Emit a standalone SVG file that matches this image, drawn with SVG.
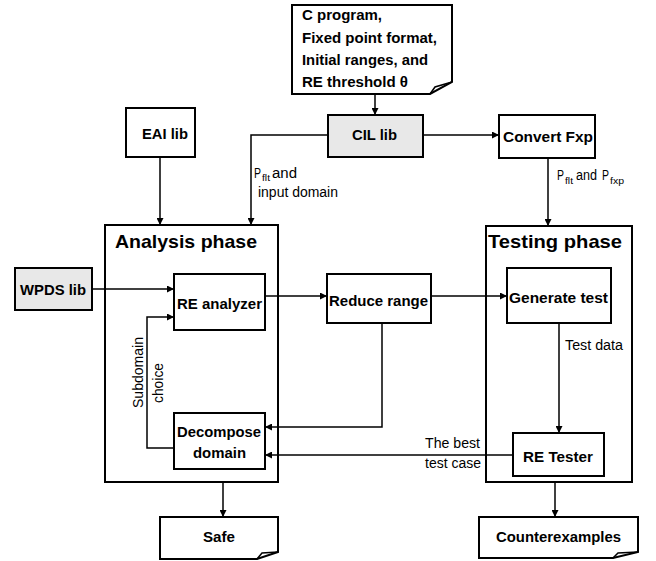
<svg xmlns="http://www.w3.org/2000/svg" width="656" height="561" viewBox="0 0 656 561">
<style>
.box{fill:#fff;stroke:#000;stroke-width:2}
.gray{fill:#e8e8e8;stroke:#000;stroke-width:2}
.ln{fill:none;stroke:#000;stroke-width:1.5}
.b{font-family:"Liberation Sans",Arial,sans-serif;font-weight:bold;font-size:15.5px;fill:#000}
.t{font-family:"Liberation Sans",Arial,sans-serif;font-weight:bold;font-size:18.5px;fill:#000}
.n{font-family:"Liberation Sans",Arial,sans-serif;font-size:14px;fill:#000}
.s{font-family:"Liberation Sans",Arial,sans-serif;font-size:8.5px;fill:#000}
</style>
<defs>
<marker id="ar" viewBox="0 0 10 10" refX="10" refY="5" markerWidth="7" markerHeight="7" markerUnits="userSpaceOnUse" orient="auto">
<path d="M0,0 L10,5 L0,10 Z" fill="#000"/>
</marker>
</defs>

<g id="input-doc">
<path class="box" d="M292,5 H452 V82 L430,94 H292 Z"/>
<path class="ln" d="M430,94 L435,87 L452,82"/>
<text class="b" x="302" y="20" font-size="16.5" textLength="80" lengthAdjust="spacingAndGlyphs">C program,</text>
<text class="b" x="302" y="43" font-size="16.5" textLength="135" lengthAdjust="spacingAndGlyphs">Fixed point format,</text>
<text class="b" x="302" y="65" font-size="16.5" textLength="126" lengthAdjust="spacingAndGlyphs">Initial ranges, and</text>
<text class="b" x="302" y="87" font-size="16.5" textLength="106" lengthAdjust="spacingAndGlyphs">RE threshold θ</text>
</g>

<g id="eai-lib">
<rect class="box" x="126" y="108" width="69" height="49"/>
<text class="b" x="142" y="139" textLength="46" lengthAdjust="spacingAndGlyphs">EAI lib</text>
</g>

<g id="cil-lib">
<rect class="gray" x="328" y="115" width="95" height="42"/>
<text class="b" x="352" y="140" textLength="45" lengthAdjust="spacingAndGlyphs">CIL lib</text>
</g>

<g id="convert-fxp">
<rect class="box" x="499" y="115" width="96" height="43"/>
<text class="b" x="503" y="142" textLength="90" lengthAdjust="spacingAndGlyphs">Convert Fxp</text>
</g>

<g id="analysis-phase">
<rect class="box" x="105" y="225" width="173" height="257"/>
<text class="t" x="115" y="248" textLength="142" lengthAdjust="spacingAndGlyphs">Analysis phase</text>
</g>

<g id="testing-phase">
<rect class="box" x="486" y="226" width="146" height="256"/>
<text class="t" x="488" y="248" textLength="134" lengthAdjust="spacingAndGlyphs">Testing phase</text>
</g>

<g id="wpds-lib">
<rect class="gray" x="15" y="268" width="77" height="42"/>
<text class="b" x="20" y="295" textLength="66" lengthAdjust="spacingAndGlyphs">WPDS lib</text>
</g>

<g id="re-analyzer">
<rect class="box" x="174" y="274" width="91" height="56"/>
<text class="b" x="177" y="309" textLength="85" lengthAdjust="spacingAndGlyphs">RE analyzer</text>
</g>

<g id="reduce-range">
<rect class="box" x="327" y="274" width="104" height="49"/>
<text class="b" x="329" y="306" textLength="99" lengthAdjust="spacingAndGlyphs">Reduce range</text>
</g>

<g id="generate-test">
<rect class="box" x="507" y="268" width="104" height="55"/>
<text class="b" x="509" y="303" textLength="99" lengthAdjust="spacingAndGlyphs">Generate  test</text>
</g>

<g id="decompose-domain">
<rect class="box" x="174" y="413" width="91" height="56"/>
<text class="b" x="177" y="437" textLength="84" lengthAdjust="spacingAndGlyphs">Decompose</text>
<text class="b" x="193" y="458" textLength="53" lengthAdjust="spacingAndGlyphs">domain</text>
</g>

<g id="re-tester">
<rect class="box" x="513" y="433" width="91" height="43"/>
<text class="b" x="523" y="462" textLength="70" lengthAdjust="spacingAndGlyphs">RE Tester</text>
</g>

<g id="safe">
<path class="box" d="M160,517 H278 V552 L257,559 H160 Z"/>
<path class="ln" d="M257,559 L262,553 L278,552"/>
<text class="b" x="203" y="542" textLength="32" lengthAdjust="spacingAndGlyphs">Safe</text>
</g>

<g id="counterexamples">
<path class="box" d="M479,517 H638 V552 L613,558 H479 Z"/>
<path class="ln" d="M613,558 L618,553 L638,552"/>
<text class="b" x="496" y="542" textLength="125" lengthAdjust="spacingAndGlyphs">Counterexamples</text>
</g>

<g id="connectors">
<path class="ln" d="M375,94 V115" marker-end="url(#ar)"/>
<path class="ln" d="M160,157 V225" marker-end="url(#ar)"/>
<path class="ln" d="M328,135 H251 V225" marker-end="url(#ar)"/>
<path class="ln" d="M423,135 H499" marker-end="url(#ar)"/>
<path class="ln" d="M548,158 V226" marker-end="url(#ar)"/>
<path class="ln" d="M92,289 H174" marker-end="url(#ar)"/>
<path class="ln" d="M265,296 H327" marker-end="url(#ar)"/>
<path class="ln" d="M431,296 H507" marker-end="url(#ar)"/>
<path class="ln" d="M382,323 V427 H265" marker-end="url(#ar)"/>
<path class="ln" d="M559,323 V433" marker-end="url(#ar)"/>
<path class="ln" d="M513,455 H265" marker-end="url(#ar)"/>
<path class="ln" d="M174,448 H147 V317 H174" marker-end="url(#ar)"/>
<path class="ln" d="M223,482 V517" marker-end="url(#ar)"/>
<path class="ln" d="M555,482 V517" marker-end="url(#ar)"/>

<text class="n" x="254" y="178" textLength="7" lengthAdjust="spacingAndGlyphs">P</text>
<text class="s" x="262" y="181" textLength="8" lengthAdjust="spacingAndGlyphs">flt</text>
<text class="n" x="272" y="178" textLength="25" lengthAdjust="spacingAndGlyphs">and</text>
<text class="n" x="258" y="197" textLength="80" lengthAdjust="spacingAndGlyphs">input domain</text>

<text class="n" x="557" y="180" textLength="7" lengthAdjust="spacingAndGlyphs">P</text>
<text class="s" x="565" y="184" textLength="8" lengthAdjust="spacingAndGlyphs">flt</text>
<text class="n" x="576" y="180" textLength="21" lengthAdjust="spacingAndGlyphs">and</text>
<text class="n" x="602" y="180" textLength="7" lengthAdjust="spacingAndGlyphs">P</text>
<text class="s" x="610" y="184" textLength="14" lengthAdjust="spacingAndGlyphs">fxp</text>

<text class="n" x="565" y="350" textLength="58" lengthAdjust="spacingAndGlyphs">Test data</text>

<text class="n" transform="translate(143,408) rotate(-90)" textLength="71" lengthAdjust="spacingAndGlyphs">Subdomain</text>
<text class="n" transform="translate(163,403) rotate(-90)" textLength="40" lengthAdjust="spacingAndGlyphs">choice</text>

<text class="n" x="480" y="448" text-anchor="end" textLength="55" lengthAdjust="spacingAndGlyphs">The best</text>
<text class="n" x="481" y="468" text-anchor="end" textLength="56" lengthAdjust="spacingAndGlyphs">test case</text>
</g>
</svg>
